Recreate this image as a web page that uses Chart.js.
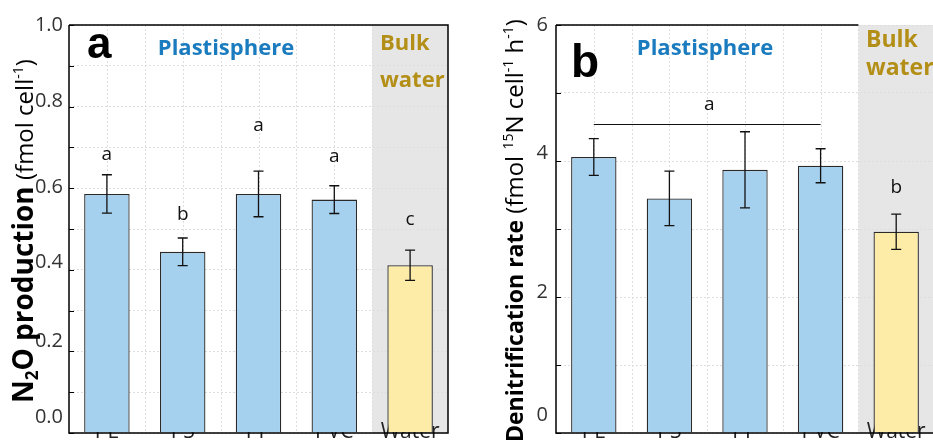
<!DOCTYPE html>
<html><head><meta charset="utf-8">
<script src="https://cdn.jsdelivr.net/npm/chart.js@4.4.1/dist/chart.umd.min.js"></script>
<style>
html,body{margin:0;padding:0;background:#fff;overflow:hidden;width:933px;height:443px;position:relative}
canvas{position:absolute;top:0}
</style></head><body>
<canvas id="ca" width="470" height="443" style="left:0"></canvas>
<canvas id="cb" width="470" height="443" style="left:470px"></canvas>
<script>
// ---- data ----
const categories = ['PE', 'PS', 'PP', 'PVC', 'Water'];
const n2oValues = [0.586, 0.444, 0.586, 0.572, 0.411];
const n2oErrors = [0.047, 0.034, 0.056, 0.034, 0.037];
const n2oLetters = ['a', 'b', 'a', 'a', 'c'];
const n2oLetterY = [0.669, 0.522, 0.740, 0.664, 0.510];
const n2oTickLabels = ['0.0', '0.2', '0.4', '0.6', '0.8', '1.0'];
const denitValues = [4.06, 3.45, 3.87, 3.93, 2.96];
const denitErrors = [0.27, 0.40, 0.56, 0.25, 0.26];
const denitGroupLineY = 4.54;
const denitGroupLetter = 'a';
const denitGroupLetterY = 4.75;
const denitWaterLetter = 'b';
const denitWaterLetterY = 3.53;
const denitTickLabels = ['0', '2', '4', '6'];

const FONT = "'Open Sans', 'Noto Sans', sans-serif";
const BLUE_BAR = '#a5d1ef', YELLOW_BAR = '#fdeca8';
const GRID = '#dedede';

function drawRotated(ctx, segs, baseX, startY) {
  ctx.save();
  ctx.translate(baseX, startY);
  ctx.rotate(-Math.PI / 2);
  ctx.textAlign = 'left';
  ctx.textBaseline = 'alphabetic';
  let x = 0;
  for (const s of segs) {
    ctx.font = s.font;
    ctx.fillStyle = '#000';
    ctx.fillText(s.t, x, s.dy || 0);
    x += ctx.measureText(s.t).width;
  }
  ctx.restore();
}

const panelPlugin = {
  id: 'panel',
  beforeDraw(chart) {
    const {ctx, chartArea: ca, scales: {x}} = chart;
    const cfg = chart.options.plugins.panel;
    const gx = (x.getPixelForValue(3) + x.getPixelForValue(4)) / 2;
    ctx.save();
    ctx.fillStyle = '#e6e6e6';
    ctx.fillRect(gx, ca.top, (cfg.grayToEdge ? chart.width : ca.right) - gx, ca.bottom - ca.top);
    ctx.restore();
  },
  beforeDatasetsDraw(chart) {
    const {ctx, chartArea: ca, scales: {x}} = chart;
    const step = x.getPixelForValue(1) - x.getPixelForValue(0);
    ctx.save();
    ctx.strokeStyle = GRID; ctx.lineWidth = 1; ctx.setLineDash([2, 2]);
    for (let i = 0; i < 4; i++) {
      const c = x.getPixelForValue(i);
      for (const px of [c, c + step / 2]) {
        const xx = Math.round(px) + 0.5;
        ctx.beginPath(); ctx.moveTo(xx, ca.top); ctx.lineTo(xx, ca.bottom); ctx.stroke();
      }
    }
    ctx.restore();
  },
  afterDatasetsDraw(chart) {
    const {ctx, chartArea: ca, scales: {x, y}} = chart;
    const cfg = chart.options.plugins.panel;
    // error bars
    ctx.save();
    ctx.strokeStyle = '#111'; ctx.lineWidth = 1.3;
    cfg.values.forEach((v, i) => {
      const cx = x.getPixelForValue(i);
      const t = y.getPixelForValue(v + cfg.errors[i]);
      const b = y.getPixelForValue(v - cfg.errors[i]);
      ctx.beginPath();
      ctx.moveTo(cx, t); ctx.lineTo(cx, b);
      ctx.moveTo(cx - 5, t); ctx.lineTo(cx + 5, t);
      ctx.moveTo(cx - 5, b); ctx.lineTo(cx + 5, b);
      ctx.stroke();
    });
    ctx.restore();
    // frame
    ctx.save();
    ctx.strokeStyle = '#000'; ctx.lineWidth = 1.5;
    const gx = (x.getPixelForValue(3) + x.getPixelForValue(4)) / 2;
    ctx.beginPath();
    ctx.moveTo(ca.left, ca.top); ctx.lineTo(ca.left, ca.bottom);
    ctx.lineTo(cfg.grayToEdge ? chart.width : ca.right, ca.bottom);
    if (!cfg.grayToEdge) { ctx.lineTo(ca.right, ca.top); ctx.lineTo(ca.left, ca.top); }
    else { ctx.moveTo(ca.left, ca.top); ctx.lineTo(gx, ca.top); }
    ctx.stroke();
    // inward ticks
    ctx.lineWidth = 1;
    for (let v = 0; v <= cfg.max + 1e-9; v += cfg.step) {
      const py = Math.round(y.getPixelForValue(v)) + 0.5;
      ctx.beginPath(); ctx.moveTo(ca.left, py); ctx.lineTo(ca.left + 5, py); ctx.stroke();
    }
    ctx.restore();
    // significance letters
    ctx.save();
    ctx.fillStyle = '#111';
    ctx.font = '19px ' + FONT;
    ctx.textAlign = 'center'; ctx.textBaseline = 'alphabetic';
    if (cfg.letters) {
      cfg.letters.forEach((l, i) => ctx.fillText(l, x.getPixelForValue(i), y.getPixelForValue(cfg.letterY[i])));
    }
    if (cfg.group) {
      const ly = Math.round(y.getPixelForValue(cfg.group.lineY)) + 0.5;
      ctx.strokeStyle = '#111'; ctx.lineWidth = 1.2;
      ctx.beginPath(); ctx.moveTo(x.getPixelForValue(0), ly); ctx.lineTo(x.getPixelForValue(3), ly); ctx.stroke();
      ctx.fillText(cfg.group.letter, (x.getPixelForValue(0) + x.getPixelForValue(3)) / 2 + 2, y.getPixelForValue(cfg.group.letterY));
      ctx.fillText(cfg.group.wLetter, x.getPixelForValue(4), y.getPixelForValue(cfg.group.wLetterY));
    }
    ctx.restore();
    // labels
    ctx.save();
    ctx.textBaseline = 'alphabetic';
    ctx.fillStyle = '#000';
    ctx.font = 'bold ' + cfg.panelSize + 'px "Liberation Sans", Arial, sans-serif';
    ctx.textAlign = 'left';
    ctx.fillText(cfg.panel, cfg.panelX, cfg.panelY);
    ctx.fillStyle = '#1a7bbf';
    ctx.font = 'bold 22px ' + FONT;
    ctx.textAlign = 'center';
    ctx.fillText('Plastisphere', cfg.plX, 55);
    ctx.fillStyle = '#b38f17';
    ctx.font = 'bold ' + cfg.bwSize + 'px ' + FONT;
    ctx.textAlign = 'left';
    ctx.fillText('Bulk', cfg.bwX, cfg.bwY1);
    ctx.fillText('water', cfg.bwX, cfg.bwY2);
    ctx.restore();
    drawRotated(ctx, cfg.title, cfg.titleX, cfg.titleY);
  }
};

function makeChart(id, cfg) {
  const labels = cfg.tickLabels;
  return new Chart(document.getElementById(id), {
    type: 'bar',
    data: {
      labels: categories,
      datasets: [{
        data: cfg.values,
        backgroundColor: categories.map((c, i) => i === 4 ? YELLOW_BAR : BLUE_BAR),
        borderColor: '#2a2a2a',
        borderWidth: 1.3,
        barPercentage: 0.6,
        categoryPercentage: 1.0
      }]
    },
    options: {
      responsive: false, animation: false, devicePixelRatio: 1,
      layout: {padding: {left: 0, top: 25, right: cfg.padRight, bottom: 0}},
      plugins: {legend: {display: false}, tooltip: {enabled: false}, panel: cfg},
      scales: {
        x: {
          z: 1,
          grid: {display: false}, border: {display: false},
          ticks: {mirror: true, padding: -12, maxRotation: 0, autoSkip: false, color: '#222', font: {family: FONT, size: 21}},
          afterFit(s) { s.height = 10; s.paddingLeft = 0; s.paddingRight = 0; }
        },
        y: {
          min: 0, max: cfg.max,
          grid: {color: GRID, lineWidth: 1, drawTicks: false},
          border: {display: false, dash: [2, 2]},
          ticks: {
            stepSize: cfg.step, padding: cfg.tickPad, labelOffset: 0, color: '#333',
            font: {family: FONT, size: 20, lineHeight: 0.1},
            callback: (v) => {
              const k = v / cfg.labelStep;
              const r = Math.round(k);
              if (Math.abs(k - r) > 1e-6) return '';
              // raise each label by its lift (in px, lineHeight is 2px -> one empty line lifts 1px)
              const out = [labels[r]];
              for (let j = 0; j < cfg.tickLift[r]; j++) out.push('');
              return out;
            }
          },
          afterFit(s) { s.width = cfg.yWidth; s.paddingTop = 0; s.paddingBottom = 0; }
        }
      }
    },
    plugins: [panelPlugin]
  });
}

makeChart('ca', {
  values: n2oValues, errors: n2oErrors, letters: n2oLetters, letterY: n2oLetterY,
  tickLabels: n2oTickLabels, tickLift: [16, 10, 8, 1, 5, 0], max: 1.0, step: 0.1, labelStep: 0.2,
  padRight: 22, yWidth: 69, tickPad: 6, grayToEdge: false,
  panel: 'a', panelSize: 44, panelX: 87, panelY: 58,
  plX: 226, bwSize: 22, bwX: 380, bwY1: 50, bwY2: 87,
  titleX: 33, titleY: 403,
  title: [
    {t: 'N', font: 'bold 28px ' + FONT},
    {t: '2', font: 'bold 17px ' + FONT, dy: 5},
    {t: 'O production', font: 'bold 28px ' + FONT},
    {t: ' (fmol cell', font: '24px ' + FONT},
    {t: '-1', font: '14px ' + FONT, dy: -10},
    {t: ')', font: '24px ' + FONT}
  ]
});

makeChart('cb', {
  values: denitValues, errors: denitErrors,
  group: {lineY: denitGroupLineY, letter: denitGroupLetter, letterY: denitGroupLetterY, wLetter: denitWaterLetter, wLetterY: denitWaterLetterY},
  tickLabels: denitTickLabels, tickLift: [18, 5, 8, 0], max: 6, step: 1, labelStep: 2,
  padRight: 6, yWidth: 86, tickPad: 8, grayToEdge: true,
  panel: 'b', panelSize: 46, panelX: 101, panelY: 77,
  plX: 235, bwSize: 23, bwX: 396, bwY1: 47, bwY2: 75,
  titleX: 53, titleY: 442,
  title: [
    {t: 'Denitrification rate', font: 'bold 23px ' + FONT},
    {t: ' (fmol ', font: '24px ' + FONT},
    {t: '15', font: '14px ' + FONT, dy: -10},
    {t: 'N cell', font: '24px ' + FONT},
    {t: '-1', font: '14px ' + FONT, dy: -10},
    {t: ' h', font: '24px ' + FONT},
    {t: '-1', font: '14px ' + FONT, dy: -10},
    {t: ')', font: '24px ' + FONT}
  ]
});
</script>
</body></html>
